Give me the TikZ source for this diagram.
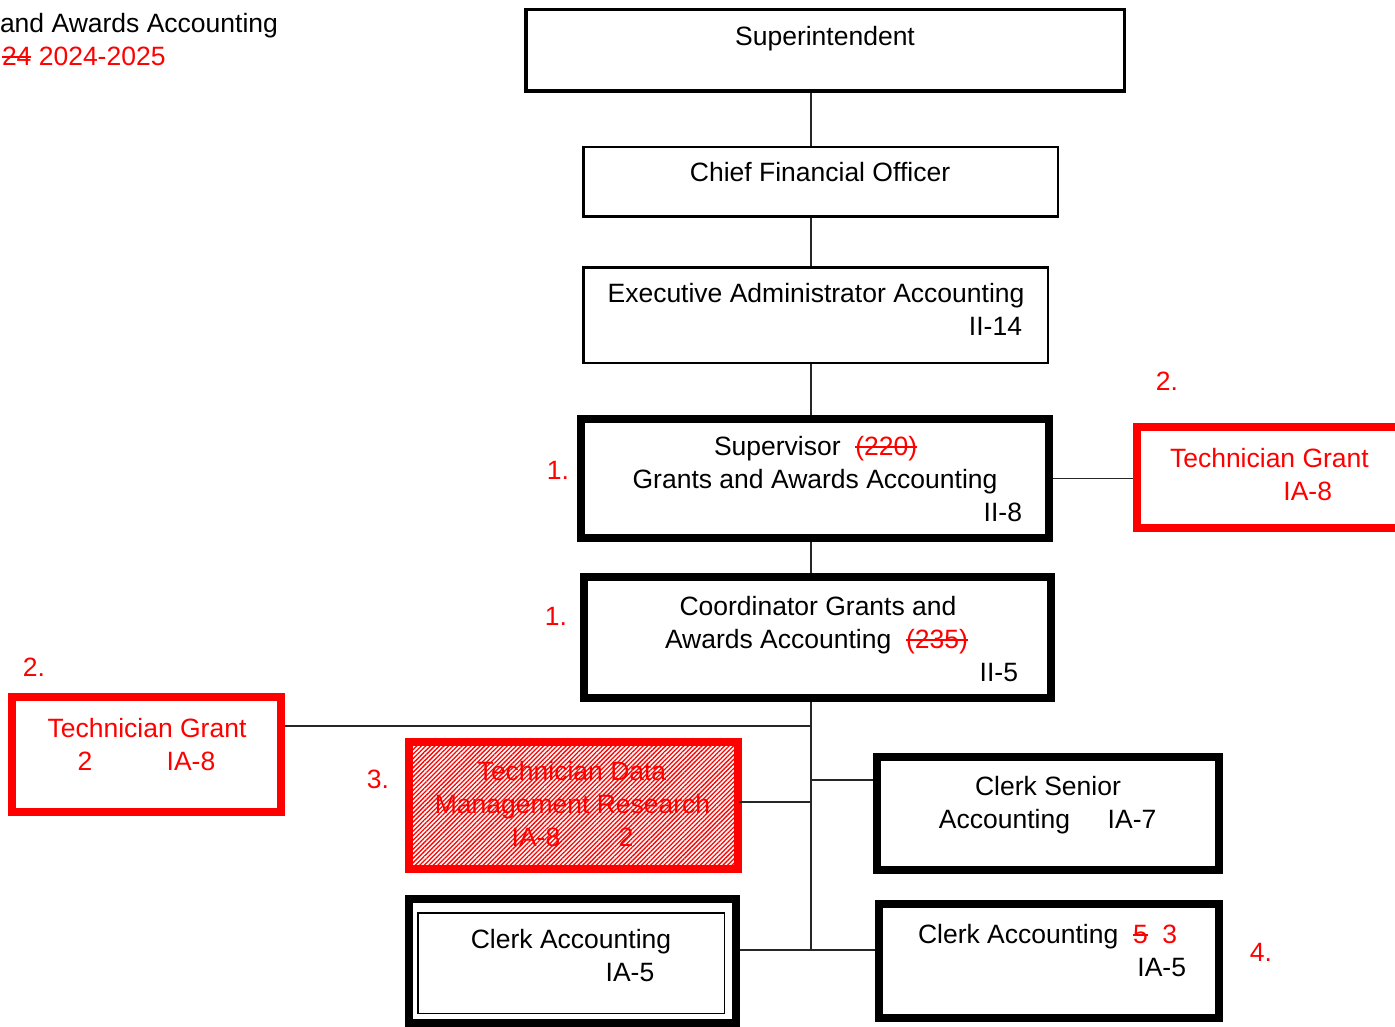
\documentclass[tikz,border=0pt]{standalone}
\usepackage{fontspec}
\setmainfont{Liberation Sans}
\usetikzlibrary{patterns.meta}

% struck-through text: a rule laid over the text at mid x-height
\newcommand{\strk}[1]{\setbox0\hbox{#1}\rlap{\rule[0.3em]{\wd0}{1.6pt}}\box0}

\tikzset{
  txt/.style={font=\fontsize{26.5}{33}\selectfont, inner sep=0pt, outer sep=0pt},
  redtxt/.style={txt, text=red},
  box/.style={draw, rectangle, inner sep=0pt, fill=white},
  thinbox/.style={box, line width=2.5pt},
  thickbox/.style={box, line width=8pt},
  redbox/.style={box, draw=red, line width=8pt},
  conn/.style={draw=black!85, line width=1.3pt},
}

\begin{document}
\begin{tikzpicture}[x=1pt, y=-1pt]
\useasboundingbox (0,0) rectangle (1395,1027);

% ---------- boxes ----------
\node[box, line width=3.5pt, minimum width=598.5pt, minimum height=81.5pt] (supt) at (825,50.5) {};
\node[thinbox, minimum width=474.5pt, minimum height=69.5pt] (cfo) at (820.5,182) {};
\node[thinbox, minimum width=464.5pt, minimum height=95.5pt] (exec) at (815.5,315) {};
\node[thickbox, minimum width=468pt, minimum height=119pt] (supv) at (815,478.5) {};
\node[thickbox, minimum width=467pt, minimum height=121pt] (coord) at (817.5,637.5) {};
\node[redbox, minimum width=269pt, minimum height=101pt] (techR) at (1271.5,477.5) {};
\node[redbox, minimum width=269pt, minimum height=115pt] (techL) at (146.5,754.5) {};
\node[redbox, pattern={Lines[angle=45, distance=3.2pt, line width=1.3pt]}, pattern color=red,
      minimum width=329pt, minimum height=127pt] (techD) at (573.5,805.5) {};
\node[thickbox, minimum width=342pt, minimum height=113pt] (clerkS) at (1048,813.5) {};
\node[thickbox, minimum width=327pt, minimum height=124pt] (clerkL) at (572.5,961) {};
\node[draw, line width=1.5pt, inner sep=0pt, minimum width=306.5pt, minimum height=100.5pt] (clerkLin) at (571,963) {};
\node[thickbox, minimum width=340pt, minimum height=114pt] (clerkR) at (1049,961) {};

% ---------- connectors ----------
\coordinate (spine) at (811,0);
\coordinate (jL) at (811,726);
\coordinate (jS) at (811,780);
\coordinate (jD) at (811,802);
\coordinate (jA) at (811,950);
\draw[conn] (supt.south -| spine) -- (cfo.north -| spine);
\draw[conn] (cfo.south -| spine) -- (exec.north -| spine);
\draw[conn] (exec.south -| spine) -- (supv.north -| spine);
\draw[conn] (supv.south -| spine) -- (coord.north -| spine);
\draw[conn] (coord.south -| spine) -- (jA);
\draw[conn] (supv.east) -- (techR.west |- supv.east);
\draw[conn] (techL.east |- jL) -- (jL);
\draw[conn] (techD.east |- jD) -- (jD);
\draw[conn] (jS) -- (clerkS.west |- jS);
\draw[conn] (clerkL.east |- jA) -- (clerkR.west |- jA);

% ---------- heading ----------
\node[txt, anchor=base west] (hdA) at (0,32.5) {and Awards Accounting};
\node[redtxt, anchor=base west] (hdB) at (2,65.5) {\strk{24}\ 2024-2025};

% ---------- box texts ----------
\node[txt, anchor=base] (tSupt) at (825,46) {Superintendent};
\node[txt, anchor=base] (tCfo) at (820,182) {Chief Financial Officer};
\node[txt, anchor=base] (tExA) at (816,302) {Executive Administrator Accounting};
\node[txt, anchor=base east] (tExB) at (1022,335) {II-14};

\node[txt, anchor=base west] (tSupA) at (714,455.5) {Supervisor\ \ \textcolor{red}{\strk{(220)}}};
\node[txt, anchor=base] (tSupB) at (815,488.5) {Grants and Awards Accounting};
\node[txt, anchor=base east] (tSupC) at (1022,521.5) {II-8};

\node[txt, anchor=base] (tCoA) at (818,615.5) {Coordinator Grants and};
\node[txt, anchor=base west] (tCoB) at (665,648.5) {Awards Accounting\ \ \textcolor{red}{\strk{(235)}}};
\node[txt, anchor=base east] (tCoC) at (1018,681.5) {II-5};

\node[redtxt, anchor=base west] (tTrA) at (1170,467.5) {Technician Grant};
\node[redtxt, anchor=base east] (tTrB) at (1332,500.5) {IA-8};

\node[redtxt, anchor=base] (tTlA) at (147,737.5) {Technician Grant};
\node[redtxt, anchor=base] (tTlB) at (85,770.5) {2};
\node[redtxt, anchor=base] (tTlC) at (191,770.5) {IA-8};

\node[redtxt, anchor=base] (tTdA) at (572,780.5) {Technician Data};
\node[redtxt, anchor=base] (tTdB) at (572.5,813.5) {Management Research};
\node[redtxt, anchor=base] (tTdC) at (536,846.5) {IA-8};
\node[redtxt, anchor=base] (tTdD) at (626,846.5) {2};

\node[txt, anchor=base] (tCsA) at (1048,795.5) {Clerk Senior};
\node[txt, anchor=base] (tCsB) at (1004.5,828.5) {Accounting};
\node[txt, anchor=base] (tCsC) at (1132,828.5) {IA-7};

\node[txt, anchor=base] (tClA) at (571,948.5) {Clerk Accounting};
\node[txt, anchor=base] (tClB) at (630,981.5) {IA-5};

\node[txt, anchor=base west] (tCrA) at (918,943.5) {Clerk Accounting\ \ \textcolor{red}{\strk{5}\ \ 3}};
\node[txt, anchor=base east] (tCrB) at (1186,976.5) {IA-5};

% ---------- change markers ----------
\node[redtxt, anchor=base] (m1a) at (558,479.5) {1.};
\node[redtxt, anchor=base] (m1b) at (556,625.5) {1.};
\node[redtxt, anchor=base] (m2a) at (1167,390.5) {2.};
\node[redtxt, anchor=base] (m2b) at (34,676.5) {2.};
\node[redtxt, anchor=base] (m3) at (378,788.5) {3.};
\node[redtxt, anchor=base] (m4) at (1261,961.5) {4.};
\end{tikzpicture}
\end{document}
